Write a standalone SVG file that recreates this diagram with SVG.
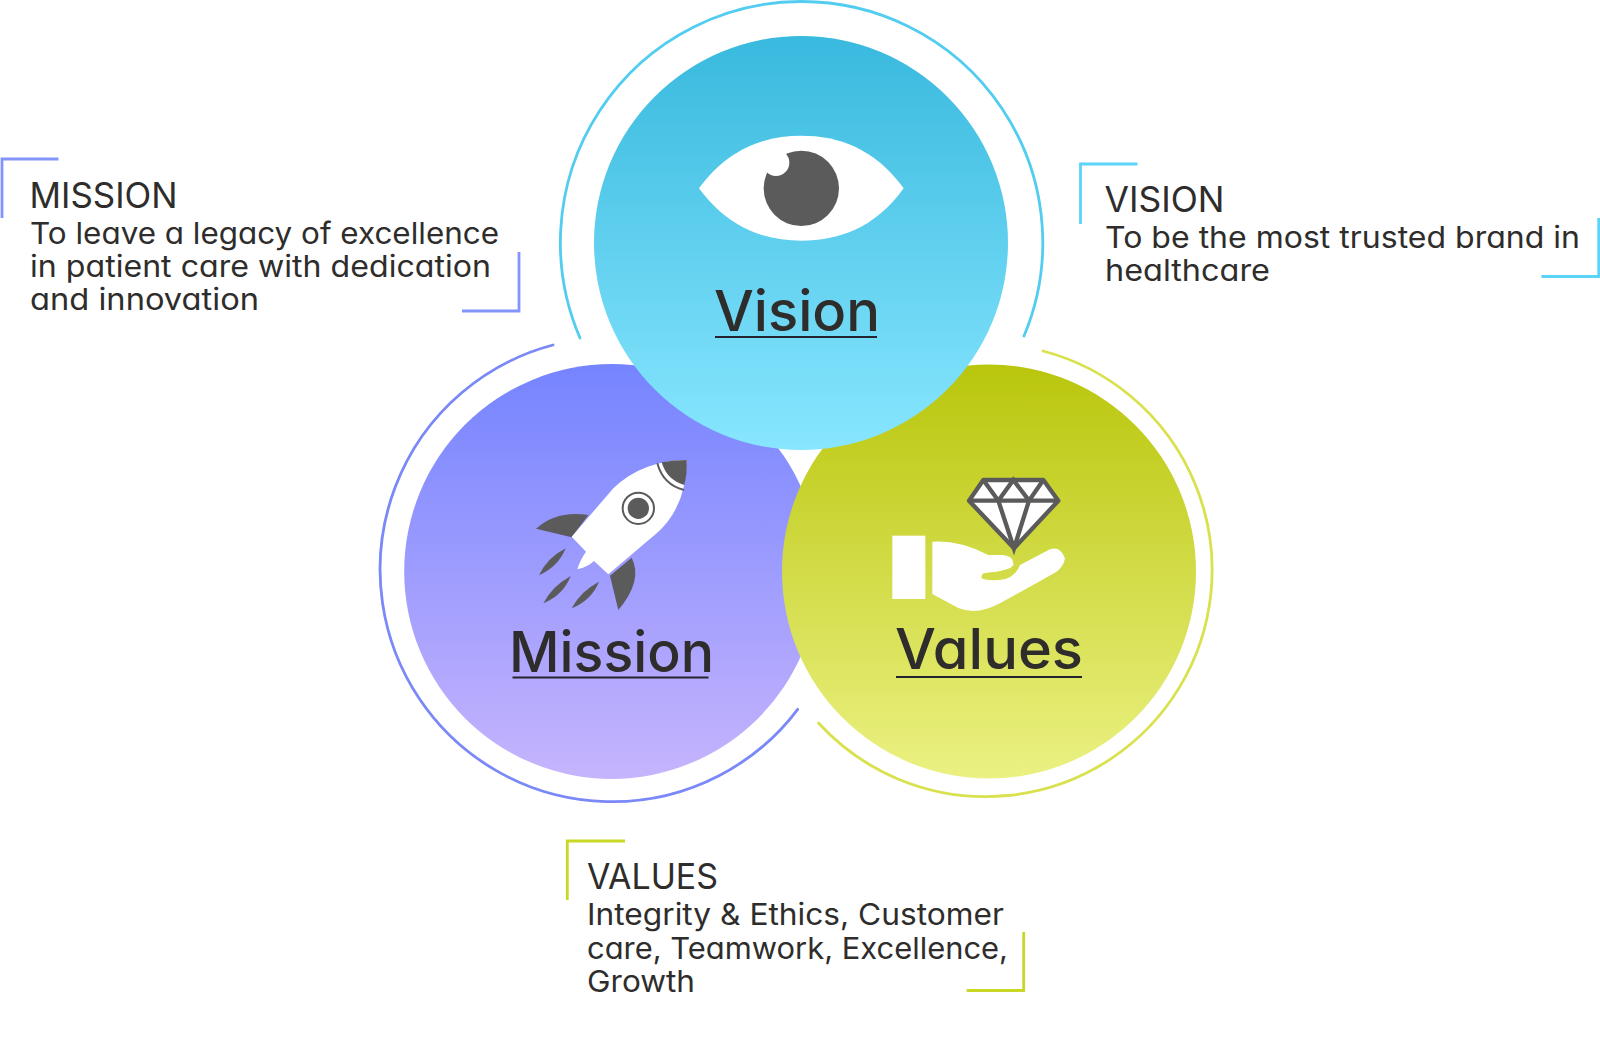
<svg xmlns="http://www.w3.org/2000/svg" width="1600" height="1038" viewBox="0 0 1600 1038">
<style>
text{font-family:Inter,"Noto Sans",sans-serif;fill:#2e2d2c;font-feature-settings:"cv11";}
.head{font-size:35px;font-weight:400;}
.body{font-size:30px;font-weight:430;}
.label{font-size:56px;font-weight:500;}
.ul{stroke:#242430;stroke-width:2.2;}
.arc{fill:none;stroke-width:2.8;stroke-linecap:round;}
.br{fill:none;stroke-width:2.8;}
.grey{fill:#5b5b5b;}
.wh{fill:#fff;}
</style>
<defs>
<linearGradient id="gVision" x1="0" y1="0" x2="0" y2="1"><stop offset="0" stop-color="#38b9de"/><stop offset="1" stop-color="#88e6ff"/></linearGradient>
<linearGradient id="gMission" x1="0" y1="0" x2="0" y2="1"><stop offset="0" stop-color="#7584ff"/><stop offset="1" stop-color="#c6b4fd"/></linearGradient>
<linearGradient id="gValues" x1="0" y1="0" x2="0" y2="1"><stop offset="0" stop-color="#b9c60c"/><stop offset="1" stop-color="#ebf182"/></linearGradient>
</defs>
<rect width="1600" height="1038" fill="#fff"/>

<g id="mission-node">
<path class="arc" stroke="#7a88f8" d="M553 345A232.2 232.2 0 1 0 797.7 709.3"/>
<circle cx="611.6" cy="571.5" r="207.4" fill="url(#gMission)"/>
<g id="rocket-icon" transform="translate(500 430) scale(.33333)">
<path class="grey" d="M108 296Q170 240 265 255L215 322Z"/>
<path class="grey" d="M395 383Q430 450 355 540L330 437Z"/>
<path class="grey" d="M197 355Q140 385 117 436Q175 410 197 355Z"/>
<path class="grey" d="M212 438Q155 470 130 520Q190 495 212 438Z"/>
<path class="grey" d="M297 455Q240 485 215 535Q275 510 297 455Z"/>
<path class="wh" d="M560 90Q425 92 340 175L215 320L258 365Q240 390 232 418Q262 412 282 393L325 433L470 310Q560 230 560 90Z"/>
<path class="grey" d="M485 97Q525 90 560 90Q562 130 553 165Q500 150 485 97Z"/>
<path d="M472 100Q490 165 552 180" fill="none" stroke="#5b5b5b" stroke-width="6"/>
<circle cx="415" cy="235" r="47" fill="none" stroke="#5b5b5b" stroke-width="6"/>
<circle cx="415" cy="235" r="32" class="grey"/>
</g>
<text class="label" x="509" y="671.5" textLength="205" lengthAdjust="spacingAndGlyphs">Mission</text>
<line class="ul" x1="512.5" y1="677.5" x2="708.5" y2="677.5"/>
</g>

<g id="values-node">
<path class="arc" stroke="#d9e14e" d="M1043 351A226.5 226.5 0 1 1 818.5 723"/>
<circle cx="989" cy="571.5" r="207" fill="url(#gValues)"/>
<g id="hand-icon" transform="translate(860 450) scale(.33333)">
<rect class="wh" x="97" y="257" width="99" height="190"/>
<path class="wh" d="M217 275Q300 270 385 315L430 315Q462 318 460 345Q452 362 375 369Q362 372 365 385Q372 392 420 390Q465 385 480 345L570 298Q600 286 615 325Q612 348 590 365L420 460Q350 497 295 474L217 432Z"/>
<path d="M370 90H550L595 152L462 295L327 152Z" fill="#fff" stroke="#5b5b5b" stroke-width="13" stroke-linejoin="round"/>
<path d="M327 152H595M370 90L415 152L460 90L507 152L550 90M415 152L462 295L507 152" fill="none" stroke="#5b5b5b" stroke-width="13"/>
</g>
<text class="label" x="895" y="669" textLength="188" lengthAdjust="spacingAndGlyphs">Values</text>
<line class="ul" x1="896" y1="677" x2="1082" y2="677"/>
</g>

<g id="vision-node">
<path class="arc" stroke="#52cdf0" d="M580 338A241.2 241.2 0 1 1 1024 336"/>
<circle cx="801" cy="243" r="207" fill="url(#gVision)"/>
<g id="eye-icon" transform="translate(680 120) scale(.33333)">
<path class="wh" d="M57 205C145 85 255 47 364 47C475 47 585 85 671 205C585 325 475 362 364 362C255 362 145 325 57 205Z"/>
<circle class="grey" cx="364" cy="205" r="113"/>
<circle class="wh" cx="288" cy="128" r="40"/>
</g>
<text class="label" x="714" y="331" textLength="166" lengthAdjust="spacingAndGlyphs">Vision</text>
<line class="ul" x1="715" y1="337" x2="877" y2="337"/>
</g>

<g id="mission-text">
<path class="br" stroke="#8494ff" d="M58.5 159H2V218M519 252V311H462"/>
<text class="head" x="29.5" y="208" textLength="148" lengthAdjust="spacingAndGlyphs">MISSION</text>
<text class="body" x="30" y="244" textLength="469" lengthAdjust="spacingAndGlyphs">To leave a legacy of excellence</text>
<text class="body" x="30" y="277" textLength="461" lengthAdjust="spacingAndGlyphs">in patient care with dedication</text>
<text class="body" x="30" y="310" textLength="229" lengthAdjust="spacingAndGlyphs">and innovation</text>
</g>

<g id="vision-text">
<path class="br" stroke="#5bd5f7" d="M1137.5 164H1080.5V224M1598.7 218V276.5H1541.5"/>
<text class="head" x="1104.5" y="212" textLength="120" lengthAdjust="spacingAndGlyphs">VISION</text>
<text class="body" x="1105" y="248" textLength="475" lengthAdjust="spacingAndGlyphs">To be the most trusted brand in</text>
<text class="body" x="1105" y="281" textLength="165" lengthAdjust="spacingAndGlyphs">healthcare</text>
</g>

<g id="values-text">
<path class="br" stroke="#c9d825" d="M625 841H567.3V900M1023.7 932V990.5H966.7"/>
<text class="head" x="587" y="889" textLength="131" lengthAdjust="spacingAndGlyphs">VALUES</text>
<text class="body" x="587" y="925" textLength="417" lengthAdjust="spacingAndGlyphs">Integrity &amp; Ethics, Customer</text>
<text class="body" x="587" y="959" textLength="421" lengthAdjust="spacingAndGlyphs">care, Teamwork, Excellence,</text>
<text class="body" x="587" y="992" textLength="108" lengthAdjust="spacingAndGlyphs">Growth</text>
</g>
</svg>
